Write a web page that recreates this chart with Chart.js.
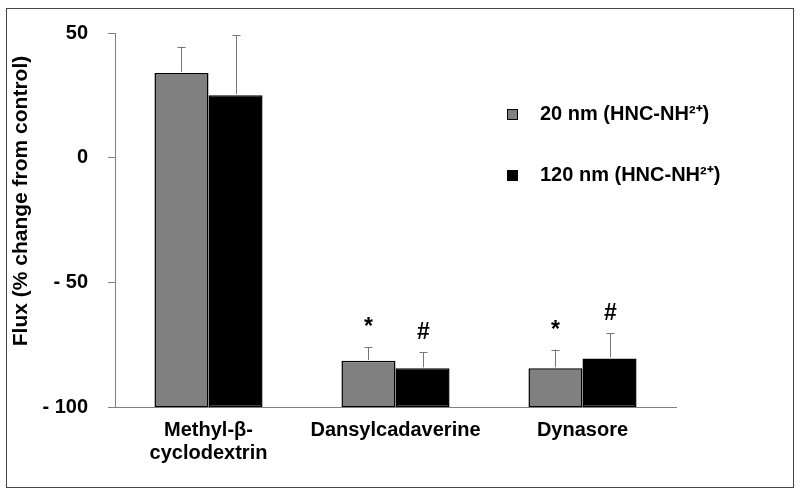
<!DOCTYPE html>
<html>
<head>
<meta charset="utf-8">
<script src="https://cdn.jsdelivr.net/npm/chart.js@4/dist/chart.umd.min.js"></script>
<style>
    html, body { margin: 0; padding: 0; background: #fff; }
    #wrap { width: 800px; height: 494px; }
</style>
</head>
<body>
<div id="wrap"><canvas id="flux-chart" width="800" height="494"></canvas></div>
<script>
// Datos
const categories = [["Methyl-β-", "cyclodextrin"], "Dansylcadaverine", "Dynasore"];
const seriesNames = ["20 nm (HNC-NH²⁺)", "120 nm (HNC-NH²⁺)"];
const values20 = [34, -81.5, -84.5];
const values120 = [25, -84.5, -80.5];
const errors20 = [10.5, 5.5, 7.5];
const errors120 = [24, 6.5, 10];
const marks20 = ["", "*", "*"];
const marks120 = ["", "#", "#"];
const yTicks = [50, 0, -50, -100];
const yTitle = "Flux (% change from control)";

const FONT = "Arial, 'Liberation Sans', sans-serif";
const BASE = -100;

document.addEventListener("DOMContentLoaded", () => {
    createChart();
});

// Barras que empiezan en -100
function toFloating(values) {
    return values.map(v => [BASE, v]);
}

// Marco, barras de error, asteriscos, leyenda y título del eje
const extrasPlugin = {
    id: "extras",
    afterDraw(chart) {
        const ctx = chart.ctx;
        const y = chart.scales.y;
        const errs = [errors20, errors120];
        const vals = [values20, values120];
        const marks = [marks20, marks120];

        ctx.save();

        // marco exterior
        ctx.strokeStyle = "#444";
        ctx.lineWidth = 1;
        ctx.strokeRect(6.5, 8.5, 787, 479);

        // barras de error (solo hacia arriba)
        ctx.strokeStyle = "#777";
        for (let d = 0; d < 2; d++) {
            const meta = chart.getDatasetMeta(d);
            meta.data.forEach((bar, i) => {
                const start = y.getPixelForValue(vals[d][i]);
                const top = y.getPixelForValue(vals[d][i] + errs[d][i]);
                const x = Math.round(bar.x) + 0.5;
                ctx.beginPath();
                ctx.moveTo(x, start - 1);
                ctx.lineTo(x, top);
                ctx.moveTo(x - 4, Math.round(top) + 0.5);
                ctx.lineTo(x + 4, Math.round(top) + 0.5);
                ctx.stroke();

                if (marks[d][i]) {
                    ctx.fillStyle = "#000";
                    ctx.font = "bold 23px " + FONT;
                    ctx.textAlign = "center";
                    ctx.textBaseline = "alphabetic";
                    ctx.fillText(marks[d][i], x, top - 13);
                }
            });
        }

        // leyenda
        const colors = ["#808080", "#000"];
        const rows = [114, 175];
        ctx.font = "bold 20px " + FONT;
        ctx.textAlign = "left";
        ctx.textBaseline = "middle";
        for (let d = 0; d < 2; d++) {
            ctx.fillStyle = colors[d];
            ctx.fillRect(507, rows[d] - 5, 11, 11);
            ctx.strokeStyle = "#000";
            ctx.strokeRect(507.5, rows[d] - 4.5, 10, 10);
            ctx.fillStyle = "#000";
            ctx.fillText(seriesNames[d], 540, rows[d]);
        }

        // título del eje Y
        ctx.translate(21, 201);
        ctx.rotate(-Math.PI / 2);
        ctx.textAlign = "center";
        ctx.textBaseline = "middle";
        ctx.font = "bold 21px " + FONT;
        ctx.fillText(yTitle, 0, 0);

        ctx.restore();
    }
};

function createChart() {
    const ctx = document.getElementById("flux-chart").getContext("2d");

    window.fluxChart = new Chart(ctx, {
        type: "bar",
        data: {
            labels: categories,
            datasets: [{
                label: seriesNames[0],
                data: toFloating(values20),
                backgroundColor: "#808080",
                borderColor: "#000",
                borderWidth: 1.5,
                borderSkipped: false,
                categoryPercentage: 0.578,
                barPercentage: 1
            }, {
                label: seriesNames[1],
                data: toFloating(values120),
                backgroundColor: "#000",
                borderColor: "#000",
                borderWidth: 1.5,
                borderSkipped: false,
                categoryPercentage: 0.578,
                barPercentage: 1
            }]
        },
        options: {
            responsive: false,
            animation: false,
            layout: {
                padding: { left: 0, right: 124, top: 33, bottom: 0 }
            },
            plugins: {
                legend: { display: false },
                tooltip: { enabled: false }
            },
            scales: {
                x: {
                    grid: { display: false, drawTicks: false },
                    border: { display: true, color: "#808080", width: 1 },
                    ticks: {
                        color: "#000",
                        padding: 12,
                        maxRotation: 0,
                        font: { family: FONT, size: 20, weight: "bold", lineHeight: 1.15 }
                    },
                    afterFit: scale => { scale.height = 87; }
                },
                y: {
                    min: -100,
                    max: 50,
                    afterBuildTicks: scale => {
                        scale.ticks = yTicks.map(v => ({ value: v }));
                    },
                    grid: {
                        drawOnChartArea: false,
                        drawTicks: true,
                        tickLength: 7,
                        color: "#808080"
                    },
                    border: { display: true, color: "#808080", width: 1 },
                    ticks: {
                        color: "#000",
                        padding: 20,
                        font: { family: FONT, size: 20, weight: "bold" },
                        callback: v => (v < 0 ? "- " + Math.abs(v) : String(v))
                    },
                    afterFit: scale => { scale.width = 115; }
                }
            }
        },
        plugins: [extrasPlugin]
    });
}
</script>
</body>
</html>
